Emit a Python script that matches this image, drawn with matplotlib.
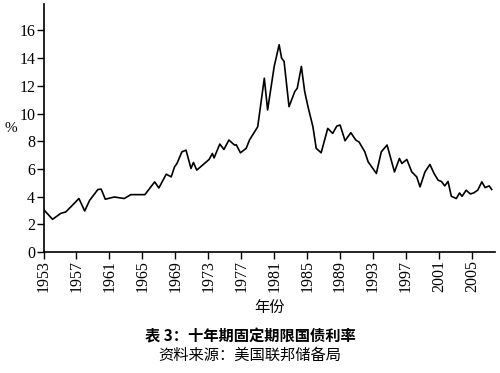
import matplotlib
matplotlib.use("Agg")
import matplotlib.pyplot as plt

plt.rcParams['font.family'] = 'serif'
plt.rcParams['font.serif'] = ['Liberation Serif', 'Times New Roman', 'DejaVu Serif']

# 十年期国债利率 (%)
years = [1953.1, 1954.1, 1955.1, 1955.7, 1956.3, 1957.3, 1958.0, 1958.6, 1959.6, 1960.0,
         1960.5, 1961.6, 1962.8, 1963.6, 1965.3, 1966.5, 1967.0, 1967.9, 1968.5, 1968.9,
         1969.2, 1969.8, 1970.3, 1970.9, 1971.2, 1971.6, 1973.1, 1973.5, 1973.7, 1974.4,
         1974.9, 1975.5, 1976.2, 1976.4, 1976.9, 1977.6, 1978.0, 1979.0, 1979.8, 1980.2,
         1981.0, 1981.6, 1981.9, 1982.2, 1982.8, 1983.5, 1983.8, 1984.3, 1984.7, 1985.1,
         1985.7, 1986.1, 1986.7, 1987.5, 1988.1, 1988.6, 1989.0, 1989.6, 1990.3, 1990.9,
         1991.3, 1992.0, 1992.4, 1993.4, 1994.0, 1994.7, 1995.6, 1996.2, 1996.5, 1997.1,
         1997.7, 1998.3, 1998.7, 1999.3, 1999.9, 2000.4, 2000.9, 2001.3, 2001.7, 2002.1,
         2002.5, 2003.1, 2003.5, 2003.8, 2004.3, 2004.8, 2005.2, 2005.7, 2006.2, 2006.6,
         2007.1, 2007.4]
rates = [3.02, 2.37, 2.80, 2.90, 3.26, 3.87, 2.97, 3.74, 4.52, 4.55,
         3.82, 3.98, 3.87, 4.15, 4.15, 5.07, 4.63, 5.63, 5.43, 6.15,
         6.40, 7.24, 7.36, 6.04, 6.47, 5.92, 6.69, 7.12, 6.80, 7.80,
         7.41, 8.09, 7.72, 7.75, 7.17, 7.49, 8.09, 9.05, 12.55, 10.26,
         13.40, 14.97, 14.00, 13.76, 10.50, 11.59, 11.83, 13.40, 11.59, 10.50,
         9.05, 7.49, 7.17, 8.93, 8.57, 9.10, 9.17, 8.04, 8.62, 8.09,
         7.95, 7.24, 6.52, 5.68, 7.24, 7.73, 5.79, 6.76, 6.40, 6.69,
         5.79, 5.43, 4.71, 5.79, 6.33, 5.68, 5.19, 5.10, 4.78, 5.10,
         4.03, 3.87, 4.27, 4.03, 4.47, 4.20, 4.27, 4.47, 5.07, 4.66,
         4.78, 4.52]

xticks = list(range(1953, 2006, 4))
yticks = list(range(0, 17, 2))

fig = plt.figure(figsize=(5, 3.73), dpi=100)
ax = fig.add_axes([0.087, 0.324, 0.903, 0.665])
ax.plot(years, rates, color='black', lw=1.2)

ax.set_xlim(1953, 2007.8)
ax.set_ylim(0, 17.9)
ax.set_xticks(xticks)
ax.set_xticklabels([str(y) for y in xticks], rotation=90)
ax.set_yticks(yticks)
ax.tick_params(labelsize=11.5, direction='out', length=5, width=1, pad=1)
for s in ['top', 'right']:
    ax.spines[s].set_visible(False)
for s in ['left', 'bottom']:
    ax.spines[s].set_linewidth(1.2)

ax.set_ylabel('%', rotation=0, fontsize=11, labelpad=6, va='center')
ax.set_xlabel('年份', fontsize=11, family='Noto Sans CJK SC', labelpad=5)

fig.text(0.5, 0.097, '表 3：十年期固定期限国债利率', ha='center', va='center',
         fontsize=11, fontweight='bold', family='Noto Sans CJK SC')
fig.text(0.5, 0.048, '资料来源：美国联邦储备局', ha='center', va='center',
         fontsize=11, family='Noto Sans CJK SC')

fig.savefig('out.png', dpi=100)
